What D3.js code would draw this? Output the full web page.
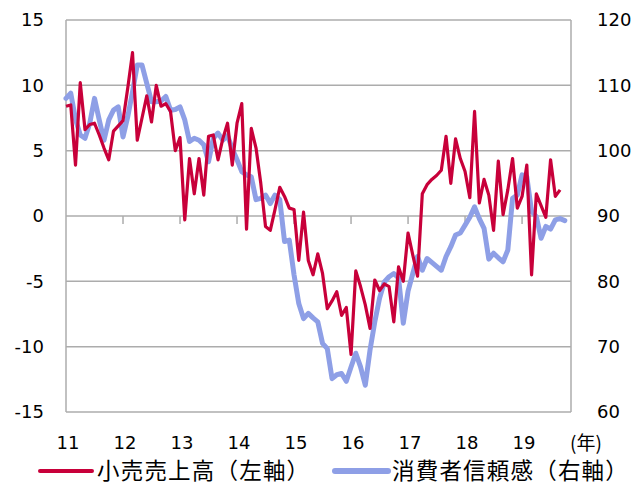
<!DOCTYPE html>
<html>
<head>
<meta charset="utf-8">
<script src="https://cdn.jsdelivr.net/npm/d3@7"></script>
<style>
  body { margin: 0; background: #fff; }
  text { font-family: "DejaVu Sans", Verdana, sans-serif; fill: #000; }
  .jp { font-family: "Noto Sans CJK JP", sans-serif; }
</style>
</head>
<body>
<div id="chart"></div>
<script>
// monthly, Jan 2011 onward
const retail = [
  8.4, 8.5, 3.9, 10.2, 6.6, 7.0, 7.1, 6.2, 5.2, 4.3, 6.5, 6.9,
  7.3, 9.8, 12.5, 5.8, 7.5, 9.2, 7.2, 10.0, 8.4, 8.6, 8.0, 5.0,
  6.0, -0.3, 4.4, 1.7, 4.4, 1.6, 6.1, 6.2, 4.3, 5.9, 7.1, 3.9,
  7.1, 8.6, -1.0, 6.7, 5.2, 2.5, -0.8, -1.1, 0.5, 2.2, 1.5, 0.6,
  0.5, -3.4, 0.3, -3.4, -4.5, -2.9, -4.4, -7.1, -6.5, -5.8, -7.6, -7.0,
  -10.6, -4.2, -5.4, -6.8, -8.6, -4.9, -5.7, -5.2, -5.4, -8.1, -3.9, -5.0,
  -1.3, -3.0, -4.6, 1.7, 2.4, 2.8, 3.1, 3.5, 6.1, 2.5, 5.9, 4.4,
  3.4, 1.4, 8.0, 1.0, 2.8, 1.6, -1.1, 4.2, 0.1, 2.0, 4.4, 0.6,
  1.5, 3.9, -4.5, 1.7, 0.8, -0.1, 4.3, 1.5, 2.0
];
const confidence = [
  108.0, 108.8, 104.8, 102.4, 101.9, 104.2, 108.0, 104.7, 101.6, 104.7, 106.2, 106.7,
  102.1, 105.2, 109.0, 113.1, 113.1, 110.3, 107.5, 107.5, 107.6, 108.3, 106.2, 106.3,
  106.7, 104.7, 101.4, 101.9, 101.6, 100.9, 98.3, 101.9, 102.7, 101.6, 102.3, 100.3,
  98.6, 96.8, 96.3, 96.0, 92.5, 92.7, 93.2, 91.9, 93.2, 92.5, 86.1, 86.3,
  81.0, 76.6, 74.3, 75.1, 74.4, 73.8, 70.5, 69.7, 65.1, 65.7, 65.9, 64.7,
  66.9, 69.0, 66.9, 64.1, 69.5, 73.8, 77.4, 79.9, 80.7, 81.2, 80.5, 73.6,
  78.5, 81.2, 83.8, 81.7, 83.5, 82.9, 82.3, 81.7, 83.8, 85.3, 87.1, 87.4,
  88.6, 89.8, 91.4, 89.6, 88.1, 83.4, 84.3, 83.6, 83.0, 84.8, 92.7, 93.2,
  96.3, 96.0, 90.7, 89.9, 86.6, 88.4, 88.0, 89.4, 89.6, 89.3
];
const years = ["11", "12", "13", "14", "15", "16", "17", "18", "19"];
const leftTicks = [-15, -10, -5, 0, 5, 10, 15];
const rightTicks = [60, 70, 80, 90, 100, 110, 120];
const seriesNames = ["小売売上高（左軸）", "消費者信頼感（右軸）"];

const width = 637, height = 494;
const plotL = 66, plotR = 571, plotT = 20, plotB = 412;
const red = "#c8003a", blue = "#8e9fe6", grid = "#acacac";

const svg = d3.select("#chart").append("svg")
    .attr("width", width)
    .attr("height", height);

const x = d3.scaleLinear().domain([0, 106.3]).range([plotL, plotR]);
const yL = d3.scaleLinear().domain([-15, 15]).range([plotB, plotT]);
const yR = d3.scaleLinear().domain([60, 120]).range([plotB, plotT]);

// gridlines
svg.append("g")
  .selectAll("line")
  .data(leftTicks)
  .enter().append("line")
    .attr("x1", plotL).attr("x2", plotR)
    .attr("y1", d => yL(d)).attr("y2", d => yL(d))
    .attr("stroke", grid).attr("stroke-width", 1.5);

// frame sides
svg.append("line")
    .attr("x1", plotL).attr("x2", plotL).attr("y1", plotT).attr("y2", plotB)
    .attr("stroke", grid).attr("stroke-width", 1.5);
svg.append("line")
    .attr("x1", plotR).attr("x2", plotR).attr("y1", plotT).attr("y2", plotB)
    .attr("stroke", grid).attr("stroke-width", 1.5);

// year ticks on the zero line
svg.append("g")
  .selectAll("line")
  .data(years.slice(1))
  .enter().append("line")
    .attr("x1", (d, i) => x((i + 1) * 12)).attr("x2", (d, i) => x((i + 1) * 12))
    .attr("y1", yL(0)).attr("y2", yL(0) + 8)
    .attr("stroke", grid).attr("stroke-width", 1.5);

// axis labels
svg.append("g")
  .selectAll("text")
  .data(leftTicks)
  .enter().append("text")
    .attr("x", 44).attr("y", d => yL(d)).attr("dy", "0.36em")
    .attr("text-anchor", "end").attr("font-size", 18)
    .text(d => d);

svg.append("g")
  .selectAll("text")
  .data(rightTicks)
  .enter().append("text")
    .attr("x", 597).attr("y", d => yR(d)).attr("dy", "0.36em")
    .attr("font-size", 18)
    .text(d => d);

svg.append("g")
  .selectAll("text")
  .data(years)
  .enter().append("text")
    .attr("x", (d, i) => x(i * 12) + 2).attr("y", 443).attr("dy", "0.36em")
    .attr("text-anchor", "middle").attr("font-size", 18)
    .text(d => d);

svg.append("text")
    .attr("class", "jp")
    .attr("x", 586).attr("y", 443).attr("dy", "0.36em")
    .attr("text-anchor", "middle").attr("font-size", 19)
    .text("(年)");

// lines
const lineL = d3.line().x((d, i) => x(i)).y(d => yL(d));
const lineR = d3.line().x((d, i) => x(i)).y(d => yR(d));

svg.append("path")
    .datum(confidence)
    .attr("d", lineR)
    .attr("fill", "none").attr("stroke", blue)
    .attr("stroke-width", 5).attr("stroke-linejoin", "round").attr("stroke-linecap", "round");

svg.append("path")
    .datum(retail)
    .attr("d", lineL)
    .attr("fill", "none").attr("stroke", red)
    .attr("stroke-width", 3.2).attr("stroke-linejoin", "round");

// legend
const legend = [
  { name: seriesNames[0], color: red, w: 4, x0: 40, x1: 92, tx: 97 },
  { name: seriesNames[1], color: blue, w: 6, x0: 335, x1: 388, tx: 392 }
];
legend.forEach(l => {
  svg.append("line")
      .attr("x1", l.x0).attr("x2", l.x1).attr("y1", 471).attr("y2", 471)
      .attr("stroke", l.color).attr("stroke-width", l.w).attr("stroke-linecap", "round");
  svg.append("text")
      .attr("class", "jp")
      .attr("x", l.tx).attr("y", 471).attr("dy", "0.36em")
      .attr("font-size", 22.5).attr("letter-spacing", 1.2)
      .text(l.name);
});
</script>
</body>
</html>
